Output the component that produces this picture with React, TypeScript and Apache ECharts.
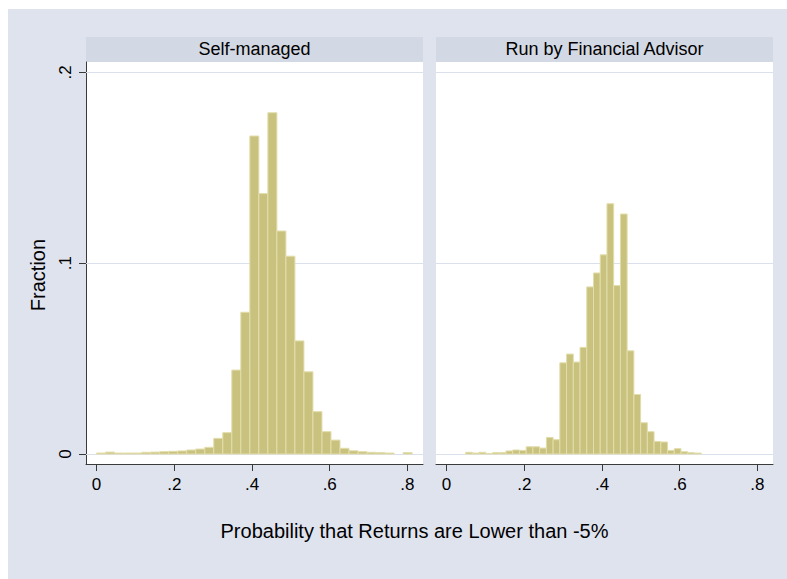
import React, { useEffect, useRef } from 'react';
import * as echarts from 'echarts';

// Panel headings
const panelTitles = ['Self-managed', 'Run by Financial Advisor'];

// Axis ticks
const xTickValues = [0, 0.2, 0.4, 0.6, 0.8];
const yTickValues = [0, 0.1, 0.2];

// Self-managed accounts: 35 bins starting at 0
const selfManagedBinStart = 0;
const selfManagedBinWidth = 0.0232;
const selfManagedFractions = [
  0.0005, 0.001, 0.0005, 0.0005, 0.0005, 0.0009, 0.001, 0.0012, 0.0014, 0.0016,
  0.0021, 0.0026, 0.0035, 0.0082, 0.0112, 0.044, 0.0743, 0.1667, 0.1365, 0.1789,
  0.1169, 0.1037, 0.0593, 0.0431, 0.0222, 0.0117, 0.0073, 0.003, 0.0017, 0.0012,
  0.0009, 0.0007, 0.0005, 0, 0.0007,
];

// Accounts run by a financial advisor: 35 bins starting at 0.049
const advisorBinStart = 0.049;
const advisorBinWidth = 0.01732;
const advisorFractions = [
  0.0009, 0.0005, 0.0009, 0.0003, 0.0007, 0.0007, 0.0016, 0.0021, 0.0019, 0.0038,
  0.0038, 0.0031, 0.0087, 0.0075, 0.0478, 0.0524, 0.0482, 0.0559, 0.0876, 0.0949,
  0.1044, 0.1312, 0.0883, 0.1258, 0.0541, 0.0312, 0.0164, 0.0117, 0.0066, 0.0063,
  0.0019, 0.0028, 0.0012, 0.0007, 0.0005,
];

const xTitle = 'Probability that Returns are Lower than -5%';
const yTitle = 'Fraction';

const FONT = '"Liberation Sans", Arial, Helvetica, sans-serif';
const BG = '#dfe3ee';
const STRIP = '#d3d9e4';
const AXIS = '#3a3a3a';
const GRIDLINE = '#dbe1ec';
const BAR_FILL = '#c9c27f';
const BAR_EDGE = '#e2ddab';

const X_MIN = -0.0272;
const X_MAX = 0.84;
const Y_MIN = -0.00524;
const Y_MAX = 0.2055;

const toBins = (start: number, width: number, fractions: number[]) =>
  fractions.map((f, i) => [start + i * width, start + (i + 1) * width, f]);

const tickText = (v: number) => (v === 0 ? '0' : v.toFixed(1).replace(/^0/, ''));

const PANEL_LEFT = [78, 428];
const PANEL_WIDTH = 337;
const PANEL_TOP = 53;
const PANEL_HEIGHT = 402;

export default function App() {
  const ref = useRef<HTMLDivElement>(null);

  useEffect(() => {
    if (!ref.current) return;
    const chart = echarts.init(ref.current, undefined, { renderer: 'svg' });

    const panels = [
      toBins(selfManagedBinStart, selfManagedBinWidth, selfManagedFractions),
      toBins(advisorBinStart, advisorBinWidth, advisorFractions),
    ];

    const grids = PANEL_LEFT.map((left) => ({
      left,
      top: PANEL_TOP,
      width: PANEL_WIDTH,
      height: PANEL_HEIGHT,
      show: true,
      backgroundColor: '#ffffff',
      borderWidth: 0,
      containLabel: false,
      outerBoundsMode: 'none',
    }));

    const xAxes = [0, 1].map((i) => ({
      type: 'value',
      gridIndex: i,
      min: X_MIN,
      max: X_MAX,
      axisLine: { show: true, onZero: false, lineStyle: { color: AXIS, width: 1 } },
      axisTick: {
        show: true,
        length: 7,
        customValues: xTickValues,
        lineStyle: { color: AXIS, width: 1 },
      },
      axisLabel: {
        customValues: xTickValues,
        formatter: (v: number) => tickText(v),
        fontSize: 17,
        fontFamily: FONT,
        color: '#000',
        margin: 12,
      },
      splitLine: { show: false },
    }));

    const yAxes = [0, 1].map((i) => ({
      type: 'value',
      gridIndex: i,
      min: Y_MIN,
      max: Y_MAX,
      show: i === 0,
      axisLine: { show: true, onZero: false, lineStyle: { color: AXIS, width: 1 } },
      axisTick: {
        show: true,
        length: 7,
        customValues: yTickValues,
        lineStyle: { color: AXIS, width: 1 },
      },
      axisLabel: {
        customValues: yTickValues,
        formatter: (v: number) => tickText(v),
        rotate: 90,
        fontSize: 17,
        fontFamily: FONT,
        color: '#000',
        margin: 12,
      },
      splitLine: { show: false },
    }));

    const gridLineSeries = [0, 1].map((i) => ({
      type: 'custom',
      xAxisIndex: i,
      yAxisIndex: i,
      z: 1,
      silent: true,
      data: yTickValues.map((v) => [0, v]),
      encode: { x: 0, y: 1 },
      renderItem: (params: any, api: any) => {
        const y = Math.round(api.coord([0, api.value(1)])[1]) + 0.5;
        const cs = params.coordSys;
        return {
          type: 'line',
          shape: { x1: cs.x, y1: y, x2: cs.x + cs.width, y2: y },
          style: { stroke: GRIDLINE, lineWidth: 1 },
        };
      },
    }));

    const barSeries = panels.map((bins, i) => ({
      type: 'custom',
      name: panelTitles[i],
      xAxisIndex: i,
      yAxisIndex: i,
      z: 2,
      data: bins,
      encode: { x: [0, 1], y: 2 },
      renderItem: (_params: any, api: any) => {
        const top = api.coord([api.value(0), api.value(2)]);
        const bottom = api.coord([api.value(1), 0]);
        if (api.value(2) <= 0) return null;
        return {
          type: 'rect',
          shape: {
            x: top[0],
            y: top[1],
            width: bottom[0] - top[0],
            height: bottom[1] - top[1],
          },
          style: { fill: BAR_FILL, stroke: BAR_EDGE, lineWidth: 1 },
        };
      },
    }));

    const stripElements: any[] = [];
    PANEL_LEFT.forEach((left, i) => {
      stripElements.push({
        type: 'rect',
        shape: { x: left, y: 28, width: PANEL_WIDTH, height: 25 },
        style: { fill: STRIP },
        silent: true,
      });
      stripElements.push({
        type: 'text',
        x: left + PANEL_WIDTH / 2,
        y: 39.5,
        style: {
          text: panelTitles[i],
          fontSize: 18,
          fontFamily: FONT,
          fill: '#000',
          align: 'center',
          verticalAlign: 'middle',
        },
        silent: true,
      });
    });

    chart.setOption({
      animation: false,
      backgroundColor: BG,
      grid: grids,
      xAxis: xAxes,
      yAxis: yAxes,
      series: [...gridLineSeries, ...barSeries],
      graphic: [
        ...stripElements,
        {
          type: 'text',
          x: 406.5,
          y: 522,
          style: {
            text: xTitle,
            fontSize: 20,
            fontFamily: FONT,
            fill: '#000',
            align: 'center',
            verticalAlign: 'middle',
          },
          silent: true,
        },
        {
          type: 'text',
          x: 30,
          y: 266,
          rotation: Math.PI / 2,
          style: {
            text: yTitle,
            fontSize: 20,
            fontFamily: FONT,
            fill: '#000',
            align: 'center',
            verticalAlign: 'middle',
          },
          silent: true,
        },
      ],
    });

    return () => chart.dispose();
  }, []);

  return (
    <div
      ref={ref}
      style={{ position: 'fixed', left: 8, top: 9, width: 779, height: 570 }}
    />
  );
}
